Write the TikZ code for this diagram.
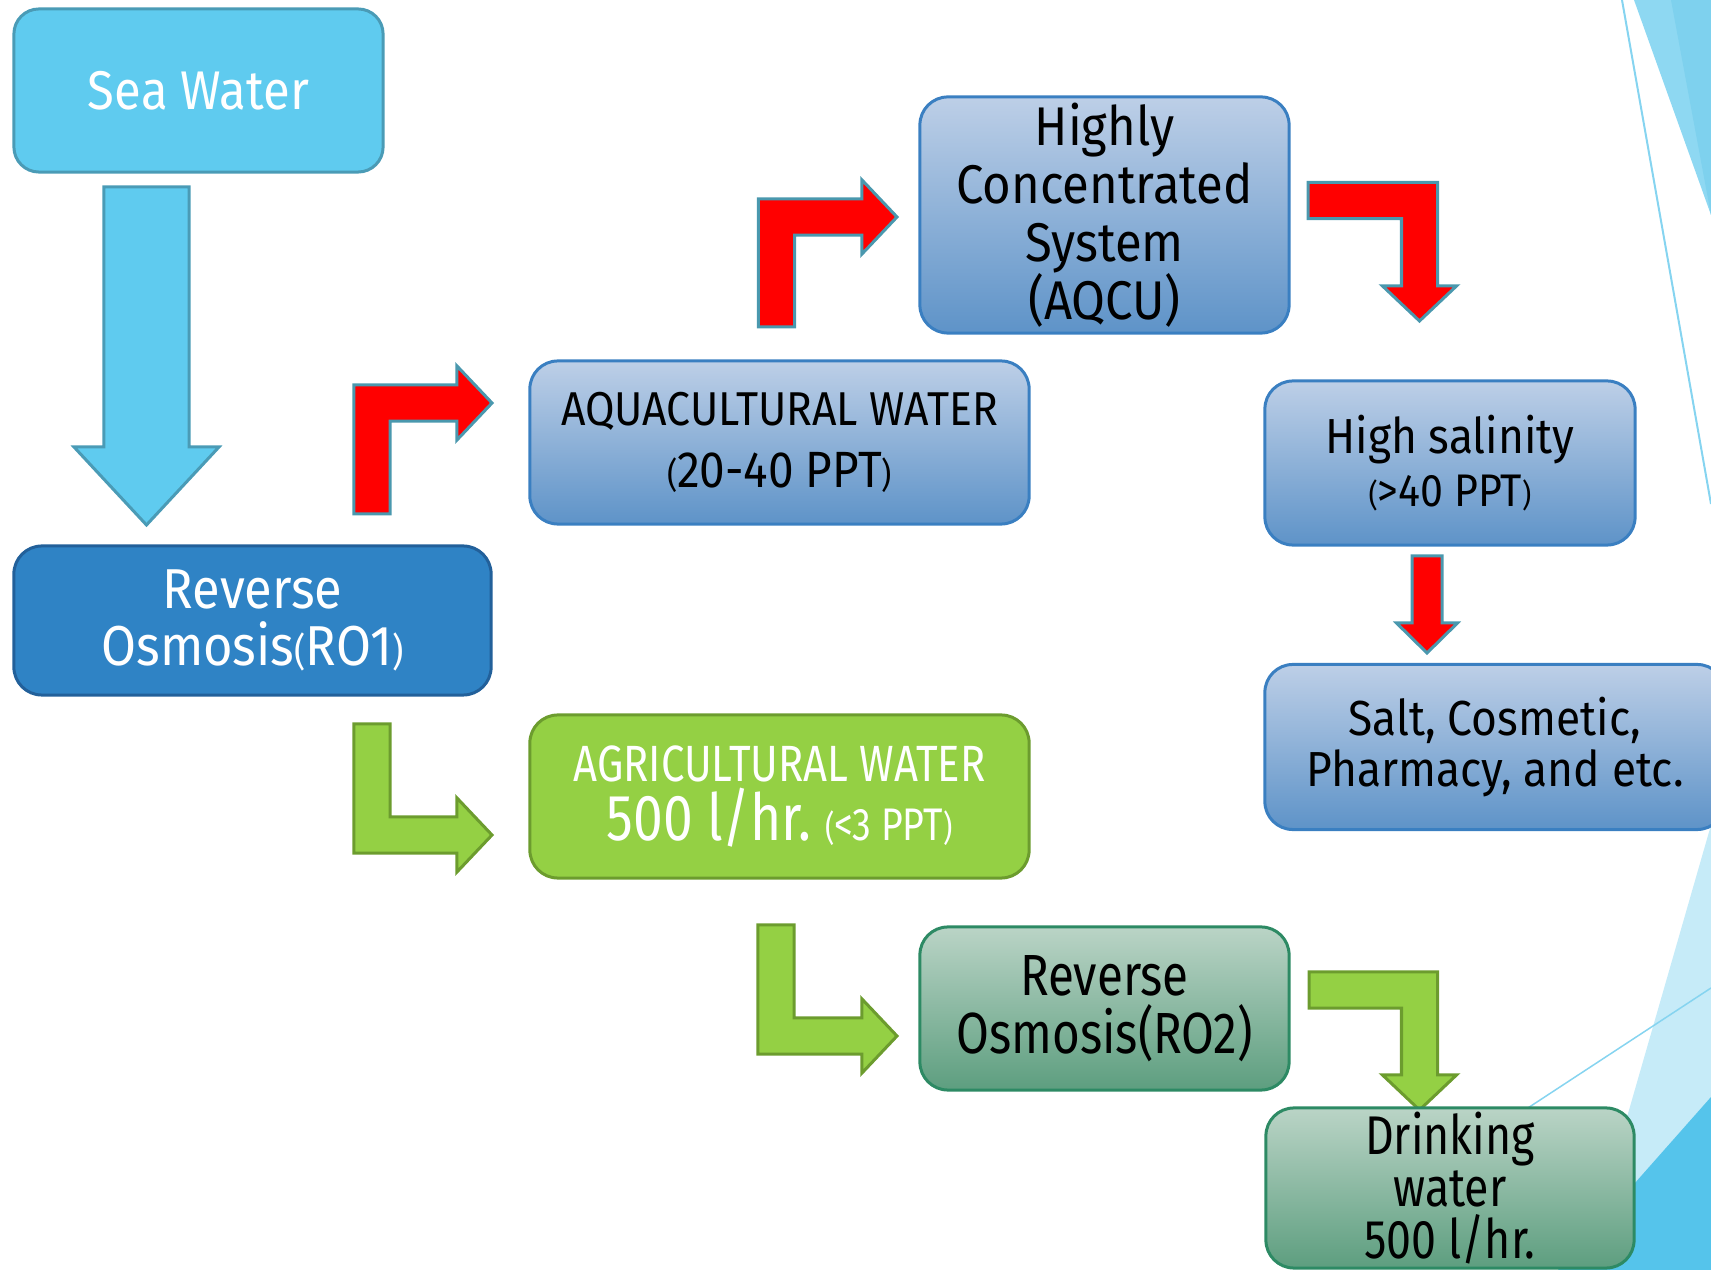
\documentclass[tikz,border=0pt]{standalone}
\usepackage{fontspec}
\setmainfont{Fira Sans}
\newfontfamily\narrowfont{Fira Sans}[FakeStretch=0.9]
\newfontfamily\condfont{Fira Sans}[FakeStretch=0.82]
\usetikzlibrary{calc}

\definecolor{seafill}{HTML}{5FCBEF}
\definecolor{seaedge}{HTML}{4A9BB6}
\definecolor{rofill}{HTML}{2F83C5}
\definecolor{roedge}{HTML}{22609A}
\definecolor{bluetop}{HTML}{BDCFE7}
\definecolor{bluebot}{HTML}{5E93C8}
\definecolor{blueedge}{HTML}{3A7FC1}
\definecolor{greentop}{HTML}{BAD4C6}
\definecolor{greenbot}{HTML}{5D9E7F}
\definecolor{greenedge}{HTML}{2D8A64}
\definecolor{agrifill}{HTML}{94D044}
\definecolor{agriedge}{HTML}{6C9C2E}
\definecolor{tealedge}{HTML}{4A98AE}
\definecolor{facetA}{HTML}{8ED8F2}
\definecolor{facetB}{HTML}{7ED1EE}
\definecolor{facetC}{HTML}{C6EBF8}
\definecolor{facetD}{HTML}{55C4EB}
\definecolor{facetline}{HTML}{86D4F0}

\tikzset{
  box/.style={rounded corners=0.28cm, line width=0.03cm, inner sep=0pt,
    outer sep=0pt, align=center, minimum height=1.63cm},
  bluebox/.style={box, draw=blueedge, top color=bluetop, bottom color=bluebot},
  greenbox/.style={box, draw=greenedge, top color=greentop, bottom color=greenbot},
  redarrow/.style={fill=red, draw=tealedge, line width=0.03cm},
  greenarrow/.style={fill=agrifill, draw=agriedge, line width=0.03cm},
  bluearrow/.style={fill=seafill, draw=seaedge, line width=0.03cm}
}

\newcommand{\shaftw}{0.18cm}
\newcommand{\headw}{0.37cm}
\newcommand{\headl}{0.35cm}
\newcommand{\smallp}[2]{{\fontsize{#1}{#1}\selectfont #2}}

% stem up (1) or down (-1), then right
\newcommand{\elbow}[4]{%
  \path[#1] let \p1=(#2), \p2=(#3) in
    (\x1-\shaftw,\y1) -- (\x1-\shaftw,{\y2+(#4)*\shaftw})
    -- (\x2-\headl,{\y2+(#4)*\shaftw}) -- (\x2-\headl,{\y2+(#4)*\headw})
    -- (\x2,\y2) -- (\x2-\headl,{\y2-(#4)*\headw})
    -- (\x2-\headl,{\y2-(#4)*\shaftw}) -- (\x1+\shaftw,{\y2-(#4)*\shaftw})
    -- (\x1+\shaftw,\y1) -- cycle;}
% right, then down
\newcommand{\elbowdown}[3]{%
  \path[#1] let \p1=(#2), \p2=(#3) in
    (\x1,\y1+\shaftw) -- (\x2+\shaftw,\y1+\shaftw) -- (\x2+\shaftw,\y2+\headl)
    -- (\x2+\headw,\y2+\headl) -- (\x2,\y2) -- (\x2-\headw,\y2+\headl)
    -- (\x2-\shaftw,\y2+\headl) -- (\x2-\shaftw,\y1-\shaftw) -- (\x1,\y1-\shaftw) -- cycle;}
% straight down: style, tail, tip, half shaft, half head, head length
\newcommand{\dnarrow}[6]{%
  \path[#1] let \p1=(#2), \p2=(#3) in
    (\x1-#4,\y1) -- (\x1-#4,\y2+#6) -- (\x1-#5,\y2+#6) -- (\x1,\y2)
    -- (\x1+#5,\y2+#6) -- (\x1+#4,\y2+#6) -- (\x1+#4,\y1) -- cycle;}

\begin{document}
\begin{tikzpicture}[x=0.01cm, y=-0.01cm]
  \useasboundingbox (0,0) rectangle (1711,1270);
  \clip (0,0) rectangle (1711,1270);

  % facets on the right edge
  \fill[facetA] (1634,0) -- (1711,0) -- (1711,215) -- cycle;
  \fill[facetB] (1671,0) -- (1711,0) -- (1711,215) -- cycle;
  \draw[facetline, line width=0.02cm] (1622,0) -- (1711,504);
  \fill[facetC] (1711,825) -- (1583,1270) -- (1711,1270) -- cycle;
  \fill[facetD] (1711,1097) -- (1558,1270) -- (1711,1270) -- cycle;
  \draw[facetline, line width=0.015cm] (1711,988) -- (1450,1159);

  % arrow ends
  \coordinate (s_a) at (146.5,187);   \coordinate (s_b) at (146.5,525);
  \coordinate (r1_a) at (372,514);    \coordinate (r1_b) at (492,403);
  \coordinate (r2_a) at (776.5,327);  \coordinate (r2_b) at (897,217);
  \coordinate (r3_a) at (1308,200.5); \coordinate (r3_b) at (1419.5,321);
  \coordinate (r4_a) at (1427,556);   \coordinate (r4_b) at (1427,653);
  \coordinate (g1_a) at (372,724);    \coordinate (g1_b) at (492,835);
  \coordinate (g2_a) at (776,925);    \coordinate (g2_b) at (897,1036);
  \coordinate (g3_a) at (1309,990);   \coordinate (g3_b) at (1419.5,1110);

  \dnarrow{bluearrow}{s_a}{s_b}{0.425cm}{0.725cm}{0.78cm}
  \elbow{redarrow}{r1_a}{r1_b}{1}
  \elbow{redarrow}{r2_a}{r2_b}{1}
  \elbowdown{redarrow}{r3_a}{r3_b}
  \dnarrow{redarrow}{r4_a}{r4_b}{0.15cm}{0.305cm}{0.30cm}
  \elbow{greenarrow}{g1_a}{g1_b}{-1}
  \elbow{greenarrow}{g2_a}{g2_b}{-1}
  \elbowdown{greenarrow}{g3_a}{g3_b}

  \node[box, rounded corners=0.25cm, fill=seafill, draw=seaedge, text=white,
      minimum width=3.69cm, font=\narrowfont\fontsize{15.5}{18}\selectfont]
      (sea) at (198.5,90.5) {Sea Water};
  \node[box, fill=rofill, draw=roedge, text=white, minimum width=4.77cm,
      minimum height=1.49cm, font=\narrowfont\fontsize{16}{16.2}\selectfont]
      (ro_1) at (252.5,620.5) {Reverse\\Osmosis\smallp{11}{(}RO1\smallp{11}{)}};
  \node[bluebox, minimum width=4.99cm,
      font=\narrowfont\fontsize{13.5}{17.4}\selectfont]
      (aqua) at (779.5,442.5)
      {AQUACULTURAL WATER\\\smallp{10}{(}{\fontsize{14.5}{17.4}\selectfont 20-40 PPT}\smallp{10}{)}};
  \node[bluebox, minimum width=3.69cm, minimum height=2.36cm,
      font=\narrowfont\fontsize{15.5}{16.5}\selectfont]
      (hcs) at (1104.5,215) {Highly\\Concentrated\\System\\(AQCU)};
  \node[bluebox, minimum width=3.70cm, minimum height=1.64cm,
      font=\narrowfont\fontsize{14}{15.2}\selectfont]
      (salin) at (1450,463)
      {High salinity\\\smallp{9}{(}{\fontsize{13}{15.2}\selectfont>40 PPT}\smallp{9}{)}};
  \node[bluebox, minimum width=4.60cm, minimum height=1.65cm,
      font=\narrowfont\fontsize{14}{14.6}\selectfont]
      (salt) at (1495,747) {Salt, Cosmetic,\\Pharmacy, and etc.};
  \node[box, fill=agrifill, draw=agriedge, text=white, minimum width=4.99cm,
      font=\condfont\fontsize{14.5}{16.8}\selectfont]
      (agri) at (779.5,796.5)
      {AGRICULTURAL WATER\\{\fontsize{18.5}{16.8}\selectfont 500 l/hr.}
       \smallp{10}{(}{\fontsize{13}{16.8}\selectfont<3 PPT}\smallp{10}{)}};
  \node[greenbox, minimum width=3.69cm,
      font=\condfont\fontsize{16.5}{16.5}\selectfont]
      (ro_2) at (1104.5,1008.5) {Reverse\\Osmosis(RO2)};
  \node[greenbox, minimum width=3.68cm, minimum height=1.60cm,
      font=\condfont\fontsize{15.5}{14.8}\selectfont]
      (drink) at (1450,1188) {Drinking\\water\\500 l/hr.};
\end{tikzpicture}
\end{document}
